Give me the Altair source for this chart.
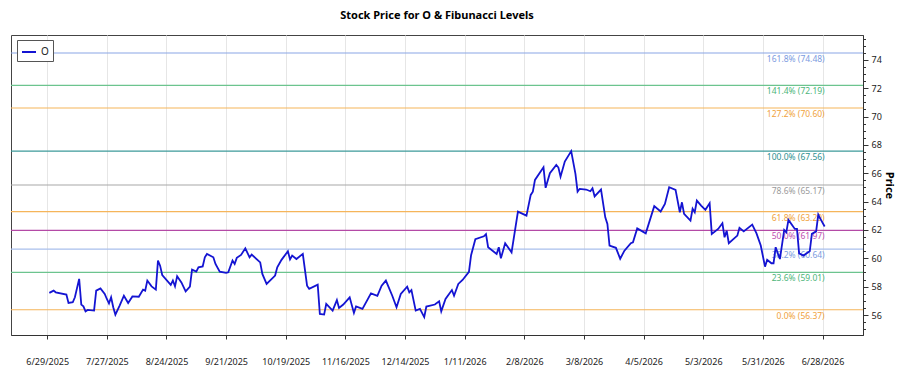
import altair as alt
import pandas as pd

# Daily closing prices for O (date, close)
dates = [
    "2025-06-30", "2025-07-02", "2025-07-03", "2025-07-08", "2025-07-09", "2025-07-11",
    "2025-07-12", "2025-07-14", "2025-07-15", "2025-07-16", "2025-07-17", "2025-07-18",
    "2025-07-21", "2025-07-22", "2025-07-24", "2025-07-26", "2025-07-27", "2025-07-28",
    "2025-07-29", "2025-07-30", "2025-07-31", "2025-08-02", "2025-08-04", "2025-08-06",
    "2025-08-08", "2025-08-11", "2025-08-13", "2025-08-14", "2025-08-15", "2025-08-17",
    "2025-08-19", "2025-08-20", "2025-08-21", "2025-08-22", "2025-08-26", "2025-08-27",
    "2025-08-28", "2025-08-29", "2025-08-31", "2025-09-02", "2025-09-04", "2025-09-05",
    "2025-09-07", "2025-09-08", "2025-09-10", "2025-09-11", "2025-09-12", "2025-09-15",
    "2025-09-16", "2025-09-18", "2025-09-21", "2025-09-22", "2025-09-24", "2025-09-25",
    "2025-09-26", "2025-09-28", "2025-09-30", "2025-10-02", "2025-10-03", "2025-10-07",
    "2025-10-08", "2025-10-10", "2025-10-14", "2025-10-15", "2025-10-17", "2025-10-20",
    "2025-10-21", "2025-10-22", "2025-10-24", "2025-10-27", "2025-10-29", "2025-10-30",
    "2025-11-03", "2025-11-04", "2025-11-06", "2025-11-07", "2025-11-10", "2025-11-12",
    "2025-11-13", "2025-11-15", "2025-11-18", "2025-11-20", "2025-11-21", "2025-11-24",
    "2025-11-28", "2025-12-01", "2025-12-03", "2025-12-05", "2025-12-08", "2025-12-10",
    "2025-12-12", "2025-12-15", "2025-12-16", "2025-12-17", "2025-12-19", "2025-12-21",
    "2025-12-23", "2025-12-24", "2025-12-28", "2025-12-30", "2025-12-31", "2026-01-02",
    "2026-01-05", "2026-01-06", "2026-01-08", "2026-01-10", "2026-01-13", "2026-01-14",
    "2026-01-16", "2026-01-20", "2026-01-21", "2026-01-22", "2026-01-26", "2026-01-27",
    "2026-01-28", "2026-01-30", "2026-02-02", "2026-02-05", "2026-02-09", "2026-02-11",
    "2026-02-12", "2026-02-13", "2026-02-17", "2026-02-18", "2026-02-20", "2026-02-23",
    "2026-02-24", "2026-02-25", "2026-02-27", "2026-03-02", "2026-03-04", "2026-03-05",
    "2026-03-06", "2026-03-09", "2026-03-11", "2026-03-12", "2026-03-13", "2026-03-16",
    "2026-03-18", "2026-03-19", "2026-03-20", "2026-03-23", "2026-03-25", "2026-03-27",
    "2026-03-30", "2026-03-31", "2026-04-02", "2026-04-06", "2026-04-10", "2026-04-13",
    "2026-04-15", "2026-04-17", "2026-04-20", "2026-04-22", "2026-04-23", "2026-04-24",
    "2026-04-27", "2026-04-28", "2026-04-29", "2026-04-30", "2026-05-02", "2026-05-04",
    "2026-05-06", "2026-05-07", "2026-05-10", "2026-05-12", "2026-05-13", "2026-05-14",
    "2026-05-15", "2026-05-19", "2026-05-20", "2026-05-22", "2026-05-26", "2026-05-28",
    "2026-05-30", "2026-06-01", "2026-06-02", "2026-06-04", "2026-06-05", "2026-06-06",
    "2026-06-07", "2026-06-08", "2026-06-10", "2026-06-11", "2026-06-12", "2026-06-15",
    "2026-06-16", "2026-06-17", "2026-06-19", "2026-06-22", "2026-06-23", "2026-06-25",
    "2026-06-26", "2026-06-27", "2026-06-29",
]
prices = [
    57.56, 57.72, 57.60, 57.44, 56.85, 56.90,
    57.25, 58.55, 56.73, 56.61, 56.26, 56.36,
    56.31, 57.72, 57.88, 57.49, 57.13, 56.82,
    57.25, 56.55, 56.03, 56.67, 57.36, 56.85,
    57.31, 57.29, 57.79, 57.72, 58.43, 58.02,
    57.79, 59.84, 59.48, 58.82, 58.12, 58.43,
    58.02, 58.73, 58.30, 57.67, 58.00, 59.20,
    59.06, 59.36, 59.43, 60.07, 60.31, 60.07,
    59.60, 59.06, 58.97, 59.01, 59.84, 59.60,
    60.03, 60.24, 60.70, 60.07, 60.26, 59.71,
    58.90, 58.19, 58.78, 59.36, 59.89, 60.50,
    59.92, 60.19, 59.95, 60.31, 58.07, 57.84,
    58.14, 56.07, 56.03, 56.78, 56.31, 57.05,
    56.50, 56.74, 57.25, 56.15, 56.60, 56.43,
    57.53, 57.36, 58.07, 58.43, 57.36, 56.55,
    57.49, 58.00, 57.60, 57.76, 56.31, 56.43,
    55.85, 56.60, 56.74, 56.97, 56.26, 57.13,
    57.76, 57.36, 58.19, 58.47, 59.05, 60.22,
    61.35, 61.55, 61.70, 60.78, 60.31, 60.78,
    60.00, 61.06, 60.42, 63.29, 63.01, 64.47,
    64.70, 65.53, 66.42, 64.97, 66.00, 66.59,
    66.40, 65.76, 66.82, 67.56, 65.95, 64.70,
    64.90, 64.85, 64.73, 64.94, 64.37, 64.85,
    62.89, 62.43, 60.90, 60.74, 59.97, 60.54,
    61.07, 61.13, 62.11, 61.76, 63.68, 63.30,
    63.84, 65.01, 64.83, 63.25, 63.95, 63.13,
    62.66, 63.49, 63.25, 64.07, 63.72, 63.42,
    63.88, 61.72, 62.07, 62.47, 61.48, 61.95,
    61.06, 61.60, 62.15, 61.90, 62.38, 61.76,
    60.90, 59.41, 59.89, 59.65, 59.65, 60.78,
    60.35, 59.95, 62.00, 61.83, 62.71, 62.07,
    62.07, 60.35, 60.19, 60.49, 61.72, 61.90,
    63.08, 62.78, 62.24,
]

# Fibonacci retracement / extension levels
fib_pcts = ["0.0%", "23.6%", "38.2%", "50.0%", "61.8%", "78.6%",
            "100.0%", "127.2%", "141.4%", "161.8%"]
fib_values = [56.37, 59.01, 60.64, 61.97, 63.29, 65.17,
              67.56, 70.60, 72.19, 74.48]
fib_line_colors = ["#F5B55A", "#6CC48E", "#A9BFEC", "#B44AA6", "#F5B55A", "#A8A8A8",
                   "#3C9A9A", "#F5B55A", "#6CC48E", "#8AA6E6"]
fib_text_colors = ["#F0A23C", "#4DB57A", "#7C9BE0", "#C04FB0", "#F0A23C", "#9A9A9A",
                   "#2E9090", "#F0A23C", "#4DB57A", "#7C9BE0"]

# Date axis: ticks every four weeks, padded range around the data
x_ticks = ["2025-06-29", "2025-07-27", "2025-08-24", "2025-09-21", "2025-10-19",
           "2025-11-16", "2025-12-14", "2026-01-11", "2026-02-08", "2026-03-08",
           "2026-04-05", "2026-05-03", "2026-05-31", "2026-06-28"]
x_range = ["2025-06-12", "2026-07-17"]
y_range = [54.59, 75.75]
y_ticks = [v / 2 for v in range(109, 152)]

FONT = "Noto Sans"


def as_dt(s):
    t = pd.Timestamp(s)
    return alt.DateTime(year=t.year, month=t.month, date=t.day)


price_df = pd.DataFrame({"date": pd.to_datetime(dates), "close": prices, "symbol": "O"})
fib_df = pd.DataFrame({
    "level": fib_pcts,
    "value": fib_values,
    "label": [f"{p} ({v:.2f})" for p, v in zip(fib_pcts, fib_values)],
    "date": pd.to_datetime([dates[-1]] * len(fib_pcts)),
})

x_scale = alt.Scale(domain=[as_dt(d) for d in x_range], nice=False)
y_scale = alt.Scale(domain=y_range, nice=False, zero=False)

x_axis = alt.Axis(
    values=[as_dt(d) for d in x_ticks],
    format="%-m/%-d/%Y",
    title=None,
    grid=True,
    gridColor="#E6E6E6",
    gridWidth=1,
    tickSize=4,
    tickColor="#333333",
    domainColor="#333333",
    labelPadding=18,
    labelFontSize=9,
    labelColor="#222222",
    labelFont=FONT,
)
y_axis = alt.Axis(
    orient="right",
    values=y_ticks,
    labelExpr="datum.value % 2 === 0 ? format(datum.value, 'd') : ''",
    tickSize={"condition": {"test": "datum.value % 2 === 0", "value": 5}, "value": 2.5},
    tickColor="#333333",
    domainColor="#333333",
    grid=False,
    title="Price",
    titleFont=FONT,
    titleFontSize=11,
    titleFontWeight="bold",
    titleColor="#000000",
    titlePadding=2,
    labelPadding=3,
    labelFontSize=9,
    labelColor="#222222",
    labelFont=FONT,
)

fib_rules = alt.Chart(fib_df).mark_rule(strokeWidth=1.2).encode(
    y=alt.Y("value:Q", scale=y_scale, axis=y_axis),
    color=alt.Color("level:N", scale=alt.Scale(domain=fib_pcts, range=fib_line_colors), legend=None),
)

fib_text = alt.Chart(fib_df).mark_text(
    align="right", baseline="top", dy=2, fontSize=8.5, font=FONT
).encode(
    x=alt.X("date:T", scale=x_scale, axis=x_axis),
    y=alt.Y("value:Q", scale=y_scale, axis=y_axis),
    text="label:N",
    color=alt.Color("level:N", scale=alt.Scale(domain=fib_pcts, range=fib_text_colors), legend=None),
)

price_line = alt.Chart(price_df).mark_line(strokeWidth=1.8).encode(
    x=alt.X("date:T", scale=x_scale, axis=x_axis),
    y=alt.Y("close:Q", scale=y_scale, axis=y_axis),
    color=alt.Color(
        "symbol:N",
        scale=alt.Scale(domain=["O"], range=["#1414D2"]),
        legend=alt.Legend(
            title=None,
            orient="none",
            legendX=6,
            legendY=5,
            padding=4,
            strokeColor="#555555",
            fillColor="#FFFFFF",
            symbolType="stroke",
            symbolSize=196,
            symbolStrokeWidth=2,
            labelFontSize=10,
            labelFont=FONT,
            labelColor="#222222",
        ),
    ),
)

chart = (
    alt.layer(fib_rules, fib_text, price_line)
    .resolve_scale(color="independent")
    .properties(
        width=852,
        height=300,
        autosize=alt.AutoSizeParams(type="none"),
        padding={"left": 11, "top": 35, "right": 37, "bottom": 40},
        title=alt.TitleParams(
            "Stock Price for O & Fibunacci Levels",
            font=FONT,
            fontSize=11,
            fontWeight="bold",
            color="#000000",
            anchor="middle",
            offset=14,
        ),
        background="#FFFFFF",
    )
    .configure_view(stroke="#444444", strokeWidth=1)
)

chart.save("out.html", embed_options={"renderer": "svg", "actions": False})
